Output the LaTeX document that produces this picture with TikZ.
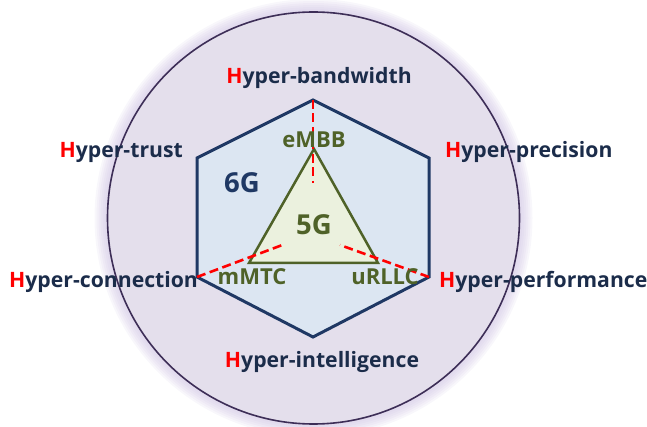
\documentclass[tikz,border=0pt]{standalone}
\usepackage{fontspec}
\setmainfont{Open Sans}
\definecolor{ringfill}{HTML}{E4DFEC}
\definecolor{ringline}{HTML}{3D2E57}
\definecolor{glow}{HTML}{C9BCE0}
\definecolor{hexfill}{HTML}{DCE6F2}
\definecolor{hexline}{HTML}{1F3864}
\definecolor{trifill}{HTML}{EBF1DE}
\definecolor{triline}{HTML}{4F6228}
\definecolor{labtext}{HTML}{1B2C4A}
\tikzset{
  lab/.style={font=\bfseries\fontsize{21.2}{25}\selectfont, text=labtext, inner sep=0pt},
  gtext/.style={font=\bfseries\fontsize{22}{26}\selectfont, text=triline, inner sep=0pt},
  gbig/.style={font=\bfseries\fontsize{27.5}{32}\selectfont, inner sep=0pt},
  redash/.style={draw=red, line width=2.6pt, dash pattern=on 9pt off 4.5pt},
}
\newcommand{\Hy}[1]{\textcolor{red}{H}#1}
\begin{document}
\begin{tikzpicture}[x=1pt,y=-1pt]
\useasboundingbox (0,0) rectangle (647,427);
\coordinate (c) at (313.5,218);
% soft halo around the ring
\foreach \r in {219,217,215,213,211,209}
  \fill[glow, opacity=0.12] (c) circle (\r pt);
\filldraw[fill=ringfill, draw=ringline, line width=1.6pt] (c) circle (206pt);
% hexagon (6G)
\coordinate (h1) at (313,100);
\coordinate (h2) at (429,158);
\coordinate (h3) at (429,277);
\coordinate (h4) at (313,337);
\coordinate (h5) at (197,277);
\coordinate (h6) at (197,158);
\filldraw[fill=hexfill, draw=hexline, line width=3pt, line join=miter]
  (h1) -- (h2) -- (h3) -- (h4) -- (h5) -- (h6) -- cycle;
% triangle (5G)
\coordinate (t1) at (314,149);
\coordinate (t2) at (378,263);
\coordinate (t3) at (249,263);
\filldraw[fill=trifill, draw=triline, line width=2.5pt, line join=miter]
  (t1) -- (t2) -- (t3) -- cycle;
% dashed spokes
\coordinate (e1) at (313,183);
\coordinate (e2) at (340,245);
\coordinate (e3) at (285,244);
\draw[redash] (h1) -- (e1);
\draw[redash] (h3) -- (e2);
\draw[redash] (h5) -- (e3);
% inner labels
\node[gtext] (embb) at (314,140) {eMBB};
\node[gtext] (mmtc) at (252,277) {mMTC};
\node[gtext] (urllc) at (385,277) {uRLLC};
\node[gbig, text=triline] (g5) at (314,225) {5G};
\node[gbig, text=hexline] (g6) at (242,183) {6G};
% outer labels
\node[lab] (bw) at (319,78) {\Hy{yper-bandwidth}};
\node[lab, anchor=east] (tr) at (183,152) {\Hy{yper-trust}};
\node[lab, anchor=west] (pr) at (445,152) {\Hy{yper-precision}};
\node[lab, anchor=west] (co) at (9,282) {\Hy{yper-connection}};
\node[lab, anchor=west] (pf) at (439,282) {\Hy{yper-performance}};
\node[lab] (in) at (322,362) {\Hy{yper-intelligence}};
\end{tikzpicture}
\end{document}
